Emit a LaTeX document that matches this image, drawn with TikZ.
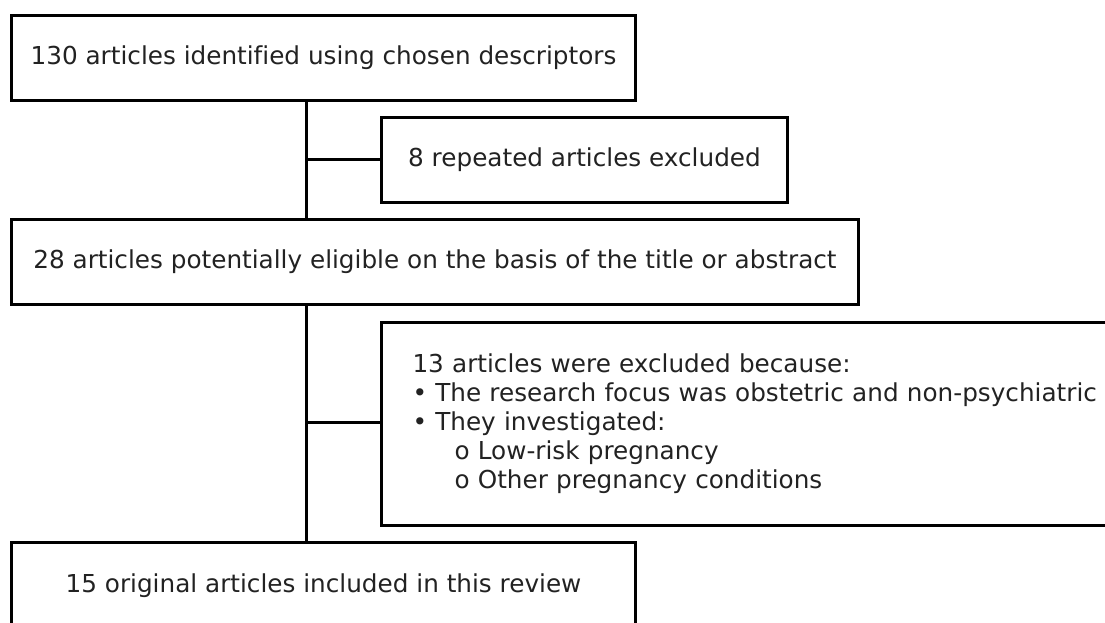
\documentclass[tikz,border=0pt]{standalone}
\usepackage{fontspec}
\setmainfont{DejaVu Sans}[Ligatures=NoCommon]
\definecolor{inkc}{HTML}{222222}
\begin{document}
\begin{tikzpicture}[x=1pt,y=-1pt,
  box/.style={draw=black, line width=3pt, fill=white, text=inkc, inner sep=0pt,
    font=\fontsize{24.7}{29}\selectfont, anchor=north west},
  link/.style={draw=black, line width=3pt}]
\useasboundingbox (0,0) rectangle (1105,623);
\clip (0,0) rectangle (1105,623);
\node[box, minimum width=624pt, minimum height=85pt] (b1) at (10,14)
  {130 articles identified using chosen descriptors};
\node[box, minimum width=406pt, minimum height=85pt] (b2) at (380,116)
  {8 repeated articles excluded};
\node[box, minimum width=847pt, minimum height=85pt] (b3) at (10,218)
  {28 articles potentially eligible on the basis of the title or abstract};
\node[box, minimum height=203pt, inner xsep=31pt, text width=720pt, align=left] (b4) at (380,321)
  {13 articles were excluded because:\\
   • The research focus was obstetric and non-psychiatric\\
   • They investigated:\\
   \hspace*{42pt}o Low-risk pregnancy\\
   \hspace*{42pt}o Other pregnancy conditions};
\node[box, minimum width=624pt, minimum height=87pt] (b5) at (10,541)
  {15 original articles included in this review};
\coordinate (j1) at (306,159);
\coordinate (j2) at (306,422);
\draw[link] (b1.south -| j1) -- (b3.north -| j1);
\draw[link] (b3.south -| j2) -- (b5.north -| j2);
\draw[link] (j1) -- (j1 -| b2.west);
\draw[link] (j2) -- (j2 -| b4.west);
\end{tikzpicture}
\end{document}
